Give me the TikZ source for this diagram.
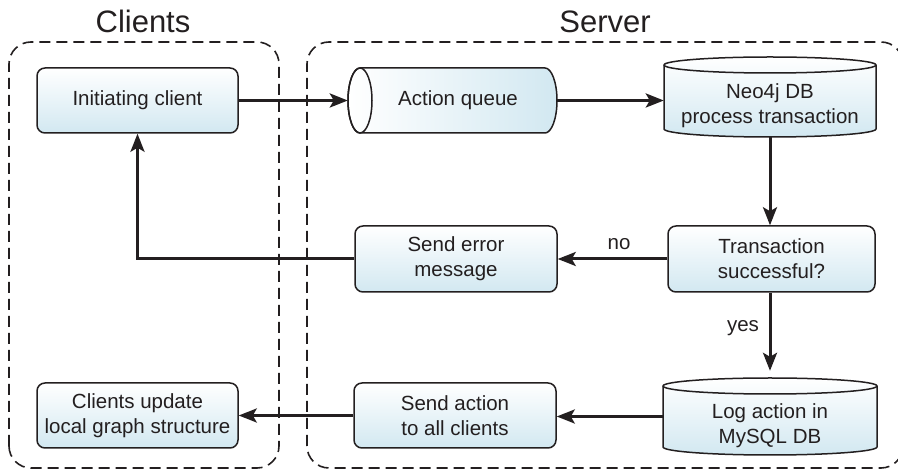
\documentclass[tikz,border=0pt]{standalone}
\usepackage{fontspec}
\setmainfont{Liberation Sans}
\usetikzlibrary{arrows.meta}
\definecolor{boxblue}{RGB}{210,232,241}
\definecolor{ink}{RGB}{35,31,32}
\begin{document}
\begin{tikzpicture}[x=1pt,y=1pt,
  txt/.style={font=\fontsize{20.5}{25}\selectfont, align=center, text=ink},
  title/.style={font=\fontsize{31}{36}\selectfont, text=ink},
  procbox/.style={draw=ink, line width=1.5pt, rounded corners=8pt,
    top color=white, bottom color=boxblue,
    minimum width=201pt, minimum height=65pt, inner sep=0pt, txt},
  holder/.style={inner sep=0pt},
  cylfill/.style={draw=ink, line width=1.5pt},
  frame/.style={draw=ink, line width=1.6pt, dash pattern=on 11pt off 6pt, rounded corners=22pt},
  flow/.style={draw=ink, line width=3pt, -{Stealth[length=18pt,width=14pt,inset=4pt]}},
]
\useasboundingbox (0,0) rectangle (898,471);
\clip (0,0) rectangle (898,471);

% dashed groups
\draw[frame] (9,3) rectangle (279,429);
\draw[frame] (307,3) rectangle (903,429);
\node[title, anchor=base] (tclients) at (143,438) {Clients};
\node[title, anchor=base] (tserver) at (605,438) {Server};

% client side
\node[procbox] (init) at (137.5,370.5) {Initiating client};
\node[procbox] (cu) at (137.5,55.5) {Clients update\\local graph structure};

% server: action queue (horizontal cylinder)
\path[cylfill, left color=white, right color=boxblue]
  (360,403) -- (545,403) arc[start angle=90,end angle=-90,x radius=12,y radius=32.5]
  -- (360,338) arc[start angle=270,end angle=90,x radius=12,y radius=32.5] -- cycle;
\draw[cylfill] (360,370.5) ellipse[x radius=12,y radius=32.5];
\node[holder, minimum width=209pt, minimum height=65pt] (aq) at (452.5,370.5) {};
\node[txt] (aqtext) at (458,370.5) {Action queue};

% server: Neo4j database (vertical cylinder)
\path[cylfill, top color=white, bottom color=boxblue]
  (664,406) -- (664,342) arc[start angle=180,end angle=360,x radius=106,y radius=8]
  -- (876,406) arc[start angle=0,end angle=180,x radius=106,y radius=8] -- cycle;
\draw[cylfill] (664,406) arc[start angle=180,end angle=360,x radius=106,y radius=8];
\node[holder, minimum width=212pt, minimum height=80pt] (neo) at (770,374) {};
\node[txt] (neotext) at (770,365) {Neo4j DB\\process transaction};

% server: decision and error
\node[procbox, minimum width=207pt, minimum height=66pt] (ts) at (771.5,212) {Transaction\\successful?};
\node[procbox, minimum width=202pt, minimum height=66pt] (se) at (456,212) {Send error\\message};

% server: MySQL log (vertical cylinder)
\path[cylfill, top color=white, bottom color=boxblue]
  (663,85) -- (663,24) arc[start angle=180,end angle=360,x radius=107,y radius=8]
  -- (877,85) arc[start angle=0,end angle=180,x radius=107,y radius=8] -- cycle;
\draw[cylfill] (663,85) arc[start angle=180,end angle=360,x radius=107,y radius=8];
\node[holder, minimum width=214pt, minimum height=77pt] (log) at (770,54.5) {};
\node[txt] (logtext) at (770,45) {Log action in\\MySQL DB};

\node[procbox, minimum width=202pt] (sa) at (455,55.5) {Send action\\to all clients};

% connectors
\draw[flow] (init.east) -- (aq.west);
\draw[flow] (aq.east) -- (aq.east -| neo.west);
\draw[flow] (neo.south) -- (neo.south |- ts.north);
\draw[flow] (ts.west) -- (se.east);
\node[txt, anchor=base] (nolbl) at (619,221) {no};
\draw[flow] (se.west) -| (init.south);
\coordinate (login) at ([yshift=7pt]log.north);
\draw[flow] (ts.south -| login) -- (login);
\node[txt, anchor=base] (yeslbl) at (743,139) {yes};
\draw[flow] (log.west) -- (log.west -| sa.east);
\draw[flow] (sa.west) -- (cu.east);
\end{tikzpicture}
\end{document}
